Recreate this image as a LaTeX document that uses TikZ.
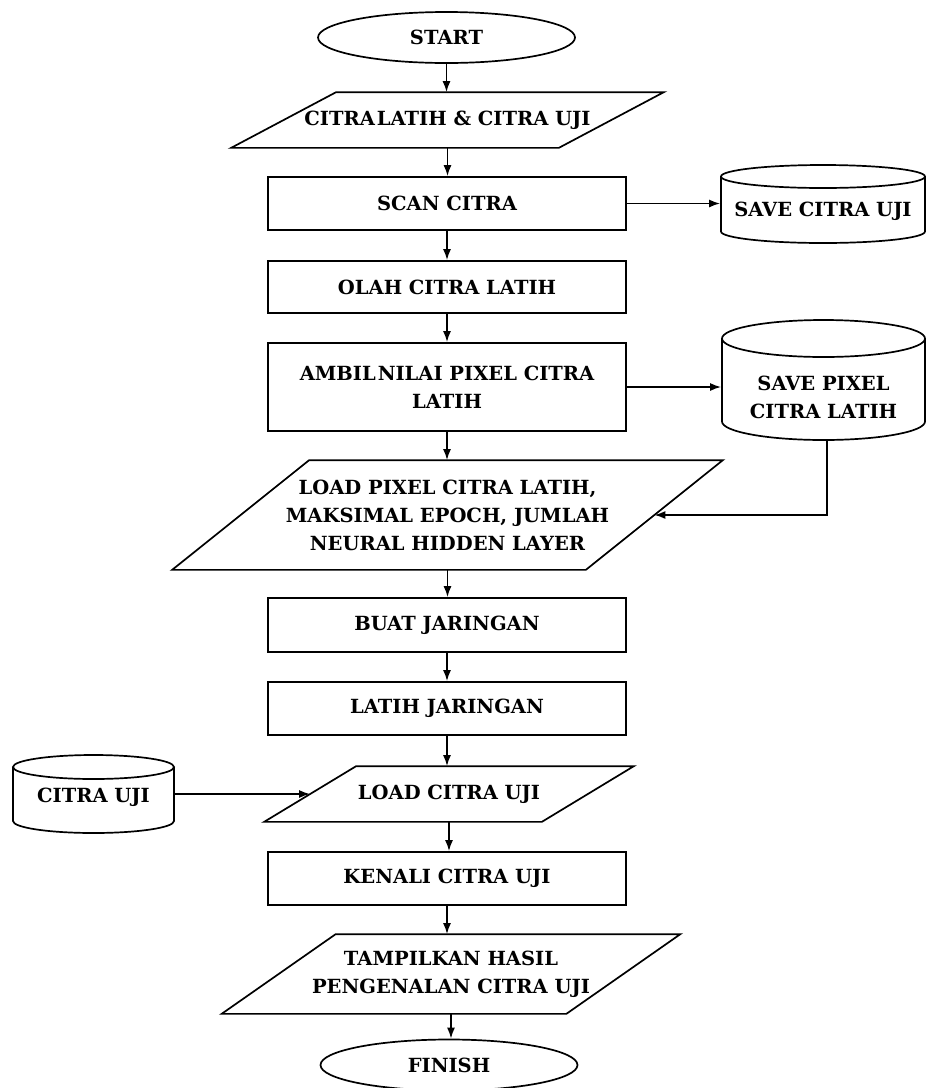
\documentclass[tikz,border=0pt]{standalone}
\usepackage{fontspec}
\setmainfont{DejaVu Serif}
\usetikzlibrary{arrows.meta,calc,shapes.geometric}

% slanted input/output box drawn around a rectangular node: #1 node, #2 horizontal slant
\newcommand\drawpara[2]{%
  \draw ([xshift=#2/2]#1.north west) -- ([xshift=#2/2]#1.north east)
        -- ([xshift=-#2/2]#1.south east) -- ([xshift=-#2/2]#1.south west) -- cycle;}

% vertical storage cylinder: #1 centre x, #2 top, #3 bottom, #4 half width, #5 cap radius
\newcommand\drawcyl[5]{%
  \draw (#1,#2+#5) ellipse [x radius=#4pt, y radius=#5pt];
  \draw (#1-#4,#2+#5) -- (#1-#4,#3-#5)
        arc[start angle=180, end angle=360, x radius=#4pt, y radius=#5pt]
        -- (#1+#4,#2+#5);}

\tikzset{
  every node/.style={font=\bfseries\fontsize{19.5}{28}\selectfont, align=center, inner sep=0pt},
  term/.style={draw, ellipse, minimum width=257pt, minimum height=51pt},
  proc/.style={draw, rectangle, minimum width=358pt, minimum height=#1},
  iobox/.style n args={2}{rectangle, minimum width=#1, minimum height=#2},
  store/.style={rectangle, minimum width=#1},
  flow/.style={->},
}

\begin{document}
\begin{tikzpicture}[x=1pt, y=-1pt, line width=1.7pt,
    >={Latex[length=11pt,width=8pt]}]
\useasboundingbox (0,0) rectangle (926,1088);
\fill[white] (0,0) rectangle (926,1088);

% main column
\node[term] (start) at (446.5,37.5) {START};
\node[iobox={326pt}{54pt}] (inp) at (447.5,120) {CITRA\kern2pt LATIH \& CITRA UJI};
\drawpara{inp}{105}
\node[proc=53pt] (scan) at (447,203.5) {SCAN CITRA};
\node[proc=52pt] (olah) at (447,287) {OLAH CITRA LATIH};
\node[proc=88pt] (ambil) at (447,387) {AMBIL\kern2pt NILAI PIXEL CITRA\\LATIH};
\node[iobox={412pt}{108pt}] (param) at (447.5,515) {LOAD PIXEL CITRA LATIH,\\MAKSIMAL EPOCH, JUMLAH\\NEURAL HIDDEN LAYER};
\drawpara{param}{137}
\node[proc=54pt] (buat) at (447,625) {BUAT JARINGAN};
\node[proc=53pt] (latih) at (447,708.5) {LATIH JARINGAN};
\node[iobox={276pt}{54pt}] (load) at (449,794) {LOAD CITRA UJI};
\drawpara{load}{92}
\node[proc=53pt] (kenali) at (447,878.5) {KENALI CITRA UJI};
\node[iobox={343pt}{78pt}] (hasil) at (451,974) {TAMPILKAN HASIL\\PENGENALAN CITRA UJI};
\drawpara{hasil}{114}
\node[term] (finish) at (449,1065) {FINISH};

% storage
\drawcyl{823}{165}{243}{102}{11.5}
\node[store=204pt] (saveuji) at (823,211) {SAVE CITRA UJI};
\drawcyl{823.5}{320}{440}{101.5}{18.5}
\node[store=203pt] (savepix) at (823.5,397) {SAVE PIXEL\\CITRA LATIH};
\coordinate (savepixbot) at (827,440);
\drawcyl{93.5}{755}{833}{80.5}{12}
\node[store=161pt] (uji) at (93.5,797) {CITRA UJI};

% flow lines
\draw[flow] (start.south) -- (start.south |- inp.north);
\draw[flow] (inp.south) -- (inp.south |- scan.north);
\draw[flow] (scan.south) -- (scan.south |- olah.north);
\draw[flow] (olah.south) -- (olah.south |- ambil.north);
\draw[flow] (ambil.south) -- (ambil.south |- param.north);
\draw[flow] (param.south) -- (param.south |- buat.north);
\draw[flow] (buat.south) -- (buat.south |- latih.north);
\draw[flow] (latih.south) -- (latih.south |- load.north);
\draw[flow] (load.south) -- (load.south |- kenali.north);
\draw[flow] (kenali.south) -- (kenali.south |- hasil.north);
\draw[flow] (hasil.south) -- (hasil.south |- finish.north);

\draw[flow] (scan.east) -- (scan.east -| saveuji.west);
\draw[flow] (ambil.east) -- (ambil.east -| savepix.west);
\draw[flow] (savepixbot) |- (param.east);
\draw[flow] (uji.east |- load.west) -- (load.west);
\end{tikzpicture}
\end{document}
